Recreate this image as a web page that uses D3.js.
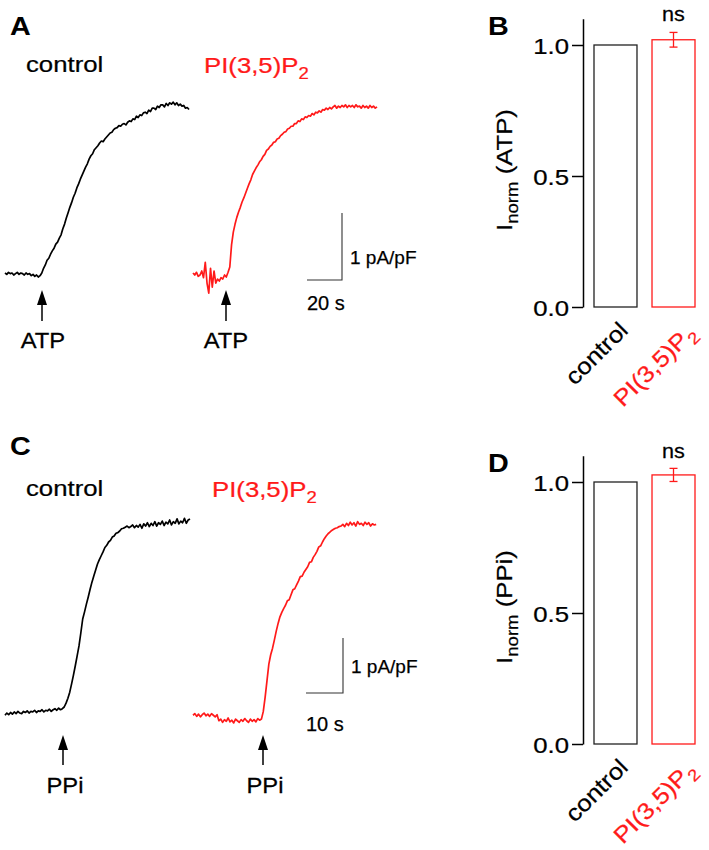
<!DOCTYPE html>
<html><head><meta charset="utf-8">
<script src="https://cdn.jsdelivr.net/npm/d3@7"></script>
<style>
body{margin:0;background:#fff}
svg{display:block}
text{font-family:"Liberation Sans",Arial,Helvetica,sans-serif}
</style>
</head><body>
<script>
// ---------------- DATA ----------------
const categories = ["control", "PI(3,5)P2"];
const atpMeans = [1.0, 1.02];
const atpErr   = [0, 0.028];
const ppiMeans = [1.0, 1.027];
const ppiErr   = [0, 0.025];
const yTicks = [0, 0.5, 1.0];

// traces: current in pA/pF, sampled every dt seconds
const dtA = 1;
const ctrlA = [0.03,0.01,0.04,0.02,0.03,0.00,0.02,0.04,0.01,0.03,0.02,0.00,0.03,0.01,0.02,-0.01,0.01,-0.02,0.00,-0.03,-0.01,
0.03,0.10,0.15,0.22,0.25,0.31,0.36,0.40,0.46,0.49,
0.55,0.60,0.69,0.76,0.85,0.93,1.01,1.08,1.16,1.22,
1.30,1.36,1.43,1.49,1.55,1.61,1.66,1.73,1.78,1.81,
1.87,1.90,1.93,1.97,2.00,1.99,2.03,2.06,2.09,2.12,
2.13,2.17,2.19,2.20,2.23,2.22,2.25,2.26,2.24,2.28,
2.30,2.29,2.33,2.32,2.37,2.35,2.39,2.38,2.42,2.43,
2.41,2.46,2.44,2.49,2.49,2.47,2.52,2.50,2.54,2.54,
2.51,2.56,2.53,2.57,2.55,2.58,2.54,2.57,2.53,2.55,
2.52,2.53,2.49,2.50,2.47];
const pipA = [0.03,0.00,0.04,-0.02,0.00,0.06,-0.04,0.19,-0.12,-0.27,0.10,
-0.18,0.06,-0.12,-0.06,-0.09,-0.04,-0.06,0.00,-0.03,0.04,
0.12,0.45,0.64,0.76,0.86,0.94,1.01,1.09,1.15,1.22,
1.29,1.36,1.42,1.50,1.55,1.60,1.64,1.69,1.72,1.77,
1.80,1.86,1.88,1.92,1.94,1.98,1.99,2.03,2.04,2.08,
2.10,2.13,2.14,2.18,2.19,2.22,2.22,2.26,2.26,2.30,
2.29,2.33,2.32,2.36,2.35,2.38,2.37,2.41,2.39,2.43,
2.42,2.45,2.43,2.47,2.46,2.49,2.47,2.50,2.48,2.51,
2.53,2.49,2.52,2.50,2.53,2.51,2.54,2.50,2.53,2.51,
2.53,2.50,2.54,2.51,2.52,2.49,2.53,2.50,2.52,2.49,
2.53,2.50,2.52,2.49,2.51];

const dtC = 0.5;
const ctrlC = [0.05,0.09,0.06,0.10,0.07,0.11,0.08,0.12,0.09,0.08,0.12,0.10,0.13,0.09,0.12,0.11,
0.14,0.10,0.13,0.12,0.15,0.11,0.14,0.13,0.16,0.12,0.15,0.17,0.14,0.18,0.15,0.17,
0.20,0.27,0.36,0.47,0.62,0.78,0.95,1.13,1.31,1.55,1.80,1.93,2.07,2.20,2.34,2.47,2.58,2.69,2.80,2.88,
2.95,3.02,3.10,3.14,3.20,3.23,3.29,3.31,3.36,3.37,3.40,3.44,3.45,3.47,3.49,3.46,3.48,
3.51,3.46,3.50,3.47,3.52,3.45,3.53,3.49,3.55,3.48,3.54,3.50,3.57,3.49,3.55,3.52,
3.58,3.50,3.56,3.53,3.60,3.51,3.57,3.54,3.62,3.53,3.58,3.55,3.63,3.54,3.60,3.62];
const pipC = [0.05,0.08,0.03,0.07,0.02,0.06,0.09,0.04,0.07,0.03,0.08,0.05,0.02,0.06,
-0.05,-0.02,-0.08,-0.03,-0.06,0.00,-0.07,-0.04,-0.09,-0.02,-0.05,-0.08,-0.03,-0.06,-0.01,-0.05,-0.08,-0.02,-0.06,-0.03,-0.07,-0.01,-0.04,-0.02,
0.12,0.38,0.68,0.98,1.15,1.27,1.42,1.58,1.72,1.84,1.92,1.99,2.05,2.13,2.15,2.24,2.33,2.35,2.42,2.49,2.57,2.58,
2.65,2.70,2.75,2.83,2.84,2.92,2.97,3.03,3.11,3.13,3.20,3.26,3.31,3.35,3.38,3.41,3.43,3.45,3.46,3.48,3.49,
3.52,3.48,3.54,3.50,3.56,3.51,3.55,3.49,3.57,3.52,3.54,3.50,3.56,3.52,3.55,3.49,3.53,3.51,3.52];

// ---------------- STYLE / LAYOUT ----------------
const RED = "#ff1a1a";
const FONT = 23, SX = 1.12;
const W = 709, H = 850;

const svg = d3.select("body").append("svg").attr("width", W).attr("height", H)
  .style("background", "#fff");

function label(parent, x, y, str, o = {}) {
  const g = parent.append("g")
    .attr("transform", `translate(${x},${y}) rotate(${o.rot || 0}) scale(${o.sx || 1},1)`);
  const col = o.color || "#000";
  const t = g.append("text")
    .attr("text-anchor", o.anchor || "start")
    .attr("font-size", o.size || FONT)
    .attr("font-weight", o.weight || "normal")
    .attr("fill", col)
    .attr("stroke", col).attr("stroke-width", o.weight ? 0 : 0.25);
  if (o.sub) {
    t.append("tspan").text(str);
    t.append("tspan").attr("font-size", (o.size || FONT) * 0.72).attr("dy", (o.size || FONT) * 0.28).text(o.sub);
    if (o.after) t.append("tspan").attr("dy", -(o.size || FONT) * 0.28).text(o.after);
  } else t.text(str);
  return t;
}

function piLabel(parent, x, y, o = {}) {
  return label(parent, x, y, "PI(3,5)P", Object.assign({sub: "2", color: RED, sx: SX}, o));
}

function trace(parent, values, dt, xs, ys, x0, color) {
  const line = d3.line().x((d, i) => x0 + xs(i * dt)).y(d => ys(d));
  parent.append("path").datum(values).attr("d", line)
    .attr("fill", "none").attr("stroke", color).attr("stroke-width", 1.7)
    .attr("stroke-linejoin", "round");
}

function arrow(parent, x, yTop, yBase, yBot) {
  parent.append("path").attr("d", `M${x},${yTop}L${x - 5},${yBase}L${x + 5},${yBase}Z`).attr("fill", "#000");
  parent.append("line").attr("x1", x).attr("x2", x).attr("y1", yBase).attr("y2", yBot)
    .attr("stroke", "#000").attr("stroke-width", 1.5);
}

function scaleBar(parent, cx, cy, xs, ys, tSec, tLabel, yBarLab, yTimeLab) {
  const dx = xs(tSec) - xs(0), dy = ys(0) - ys(1);
  parent.append("path").attr("d", `M${cx - dx},${cy}H${cx}V${cy - dy}`)
    .attr("fill", "none").attr("stroke", "#333").attr("stroke-width", 1.1);
  label(parent, cx + 8, yBarLab, "1 pA/pF", {size: 19});
  label(parent, cx - dx, yTimeLab, tLabel, {size: 20});
}

// ---------------- PANEL A ----------------
const gA = svg.append("g");
label(gA, 10, 35, "A", {size: 25, weight: "bold", sx: 1.15});
label(gA, 26, 72, "control", {sx: SX});
piLabel(gA, 204, 73);
const xA = d3.scaleLinear().domain([0, 105]).range([0, 184]);
const yA = d3.scaleLinear().domain([0, 1]).range([275, 208]);
trace(gA, ctrlA, dtA, xA, yA, 5, "#000");
trace(gA, pipA, dtA, xA, yA, 193, RED);
arrow(gA, 42, 290, 305, 321);
arrow(gA, 226, 290, 305, 321);
label(gA, 43, 348, "ATP", {size: 22, anchor: "middle", sx: 1.08});
label(gA, 226, 348, "ATP", {size: 22, anchor: "middle", sx: 1.08});
scaleBar(gA, 342, 280, xA, yA, 20, "20 s", 264, 310);

// ---------------- PANEL C ----------------
const gC = svg.append("g");
label(gC, 10, 455, "C", {size: 25, weight: "bold", sx: 1.15});
label(gC, 26, 496, "control", {sx: SX});
piLabel(gC, 212, 497);
const xC = d3.scaleLinear().domain([0, 50]).range([0, 185]);
const yC = d3.scaleLinear().domain([0, 1]).range([718, 663]);
trace(gC, ctrlC, dtC, xC, yC, 5, "#000");
trace(gC, pipC, dtC, xC, yC, 193, RED);
arrow(gC, 63, 735, 750, 765);
arrow(gC, 263, 735, 750, 765);
label(gC, 65, 793, "PPi", {size: 22, anchor: "middle", sx: 1.08});
label(gC, 265, 793, "PPi", {size: 22, anchor: "middle", sx: 1.08});
scaleBar(gC, 343, 693, xC, yC, 10, "10 s", 673, 731);

// ---------------- BAR PANELS ----------------
function barPanel(letter, y0, means, errs, yName) {
  const g = svg.append("g");
  const y = d3.scaleLinear().domain([0, 1.1]).range([y0, y0 - 1.1 * 262]);
  const x = d3.scaleBand().domain(categories).range([594, 695]).paddingInner(0.259).paddingOuter(0);
  label(g, 488, y0 - 272, letter, {size: 25, weight: "bold", sx: 1.15});

  const ax = g.append("g").attr("transform", "translate(583,0)")
    .call(d3.axisLeft(y).tickValues(yTicks).tickFormat(d3.format(".1f")).tickSize(11).tickSizeOuter(0));
  ax.select(".domain").attr("stroke", "#000").attr("stroke-width", 1.5);
  ax.selectAll(".tick line").attr("stroke", "#000").attr("stroke-width", 1.5);
  ax.selectAll(".tick text")
    .attr("x", null).attr("dy", "0.36em")
    .attr("transform", `translate(-14,0) scale(${SX},1)`)
    .attr("font-size", FONT).attr("fill", "#000").attr("stroke", "#000").attr("stroke-width", 0.25)
    .style("font-family", '"Liberation Sans",Arial,Helvetica,sans-serif');

  const colors = ["#222", RED];
  g.selectAll("rect.bar").data(categories).enter().append("rect")
    .attr("x", d => x(d)).attr("width", x.bandwidth())
    .attr("y", (d, i) => y(means[i])).attr("height", (d, i) => y(0) - y(means[i]))
    .attr("fill", "none").attr("stroke", (d, i) => colors[i]).attr("stroke-width", 1.3);

  categories.forEach((c, i) => {
    if (!errs[i]) return;
    const cx = x(c) + x.bandwidth() / 2;
    const e = g.append("g").attr("stroke", colors[i]).attr("stroke-width", 1.3);
    e.append("line").attr("x1", cx).attr("x2", cx).attr("y1", y(means[i] - errs[i])).attr("y2", y(means[i] + errs[i]));
    e.append("line").attr("x1", cx - 4).attr("x2", cx + 4).attr("y1", y(means[i] - errs[i])).attr("y2", y(means[i] - errs[i]));
    e.append("line").attr("x1", cx - 4).attr("x2", cx + 4).attr("y1", y(means[i] + errs[i])).attr("y2", y(means[i] + errs[i]));
  });
  label(g, x(categories[1]) + x.bandwidth() / 2, y0 - 286, "ns", {size: 20, anchor: "middle", sx: 1.08});

  // y axis title
  label(g, 512, y0 - 137, "I", {size: FONT, anchor: "middle", rot: -90, sx: SX, sub: "norm", after: " (" + yName + ")"});

  // rotated category labels
  label(g, 602, y0 + 52, "control", {rot: -45, anchor: "middle", sx: SX});
  piLabel(g, 660, y0 + 64, {rot: -45, anchor: "middle"});
}
barPanel("B", 307, atpMeans, atpErr, "ATP");
barPanel("D", 744, ppiMeans, ppiErr, "PPi");
</script>
</body></html>
